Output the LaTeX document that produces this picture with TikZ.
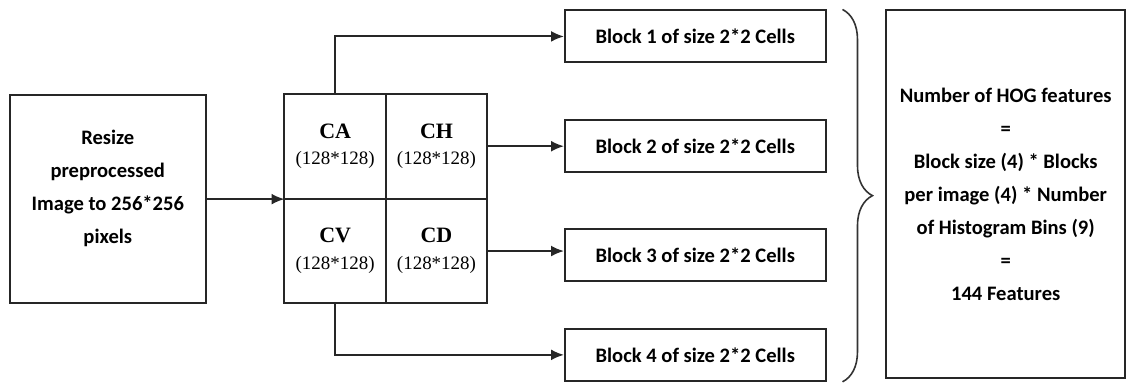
\documentclass[tikz,border=0pt]{standalone}
\usepackage{fontspec}
\setmainfont{Carlito}
\newfontfamily\cellfont{Liberation Serif}
\usepackage{tikz}
\usetikzlibrary{arrows.meta,positioning,decorations.pathreplacing}
\tikzset{
    hogbox/.style={
        draw=black!85, line width=1pt, align=center, inner sep=3pt,
        font=\fontsize{10.3}{16.5}\selectfont\bfseries},
    hoginput/.style={hogbox, minimum width=98pt, minimum height=104.5pt},
    hogcell/.style={
        draw=black!85, line width=1pt, align=center, outer sep=0pt, inner sep=0pt,
        minimum width=50.75pt, minimum height=52.5pt,
        font=\cellfont\fontsize{9.5}{13.5}\selectfont},
    hogblock/.style={hogbox, minimum width=130.5pt, minimum height=26pt},
    hogresult/.style={hogbox, minimum width=119.5pt, minimum height=184pt},
    hogflow/.style={-{Latex[length=6.5pt,width=5.5pt]}, line width=1pt, draw=black!85},
    hogbrace/.style={decorate, decoration={brace, amplitude=15pt},
        line width=0.8pt, draw=black!80},
}

\begin{document}
\begin{tikzpicture}

    % --- Input image --------------------------------------------------------------
    \node[hoginput] (resize) {%
        Resize\\preprocessed\\Image to 256*256\\pixels\\[-4.5pt]\mbox{}};

    % --- Sub-bands ----------------------------------------------------------------
    \node[hogcell, right=39pt of resize.north east, anchor=north west] (ca) {%
        \textbf{\fontsize{11}{13.5}\selectfont CA}\\(128*128)};
    \node[hogcell, right=0pt of ca] (ch) {%
        \textbf{\fontsize{11}{13.5}\selectfont CH}\\(128*128)};
    \node[hogcell, below=0pt of ca] (cv) {%
        \textbf{\fontsize{11}{13.5}\selectfont CV}\\(128*128)};
    \node[hogcell, right=0pt of cv] (cd) {%
        \textbf{\fontsize{11}{13.5}\selectfont CD}\\(128*128)};

    % --- Blocks -------------------------------------------------------------------
    \node[hogblock, right=38.5pt of ch] (b2) {Block 2 of size 2*2 Cells};
    \node[hogblock, above=28pt of b2] (b1) {Block 1 of size 2*2 Cells};
    \node[hogblock, right=38.5pt of cd, yshift=-2pt] (b3) {Block 3 of size 2*2 Cells};
    \node[hogblock, below=23pt of b3] (b4) {Block 4 of size 2*2 Cells};

    % --- Feature count ------------------------------------------------------------
    \node[hogresult, right=29.5pt of b1.north east, anchor=north west] (res) {%
        Number of HOG features\\=\\Block size (4) * Blocks\\
        per image (4) * Number\\of Histogram Bins (9)\\=\\144 Features};
    \coordinate[right=8pt of b1.north east] (brtop);
    \coordinate[right=8pt of b4.south east] (brbot);
    \draw[hogbrace] (brtop) -- (brbot);

    % --- Flow arrows --------------------------------------------------------------
    \draw[hogflow] (resize.east) -- (resize.east -| ca.west);
    \draw[hogflow] (ca.north) |- (b1.west);
    \draw[hogflow] (ch.east) -- (ch.east -| b2.west);
    \draw[hogflow] (cd.east) -- (cd.east -| b3.west);
    \draw[hogflow] (cv.south) |- (b4.west);

    \useasboundingbox ([shift={(-4.5pt,47pt)}]resize.north west)
        rectangle ([shift={(558.5pt,-144pt)}]resize.north west);

\end{tikzpicture}
\end{document}
